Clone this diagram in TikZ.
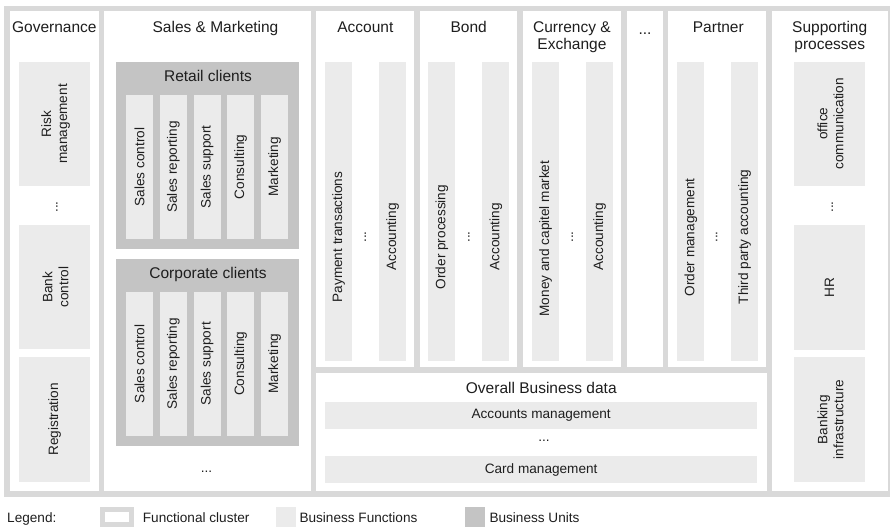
\documentclass[tikz,border=0pt]{standalone}
\usepackage{fontspec}
\setmainfont{Liberation Sans}
\definecolor{framegray}{HTML}{D9D9D9}
\definecolor{funcgray}{HTML}{EBEBEB}
\definecolor{unitgray}{HTML}{C4C4C4}
\definecolor{ink}{HTML}{1E1E1E}
\begin{document}
\begin{tikzpicture}[x=1pt,y=-1pt,
  box/.style={anchor=north west, inner sep=0pt, outer sep=0pt, draw=none},
  cluster/.style={box, fill=white},
  fbox/.style={box, fill=funcgray},
  ubox/.style={box, fill=unitgray},
  ttl/.style={font=\fontsize{15.5}{17}\selectfont, text=ink, align=center, inner sep=0pt},
  lbl/.style={font=\fontsize{13.6}{16}\selectfont, text=ink, align=center, inner sep=0pt},
  vlbl/.style={lbl, rotate=90},
  vcol/.style={fbox, minimum width=27pt, minimum height=298.4pt},
  sfun/.style={fbox, minimum width=27pt, minimum height=143.8pt}]
\useasboundingbox (0,0) rectangle (890,528);
% frame
\fill[framegray] (4,6) rectangle (895,496.6);
% clusters
\node[cluster, minimum width=89.2pt, minimum height=479.7pt] (gov) at (9.5,11) {};
\node[cluster, minimum width=206.4pt, minimum height=479.7pt] (sales) at (104.3,11) {};
\node[cluster, minimum width=98.3pt, minimum height=356pt] (acc) at (316,11) {};
\node[cluster, minimum width=97.3pt, minimum height=356pt] (bond) at (420,11) {};
\node[cluster, minimum width=98.3pt, minimum height=356pt] (cur) at (522.7,11) {};
\node[cluster, minimum width=36.6pt, minimum height=356pt] (more) at (626.7,11) {};
\node[cluster, minimum width=97.7pt, minimum height=356pt] (part) at (668.3,11) {};
\node[cluster, minimum width=116pt, minimum height=479.7pt] (supp) at (771.7,11) {};
\node[cluster, minimum width=450.5pt, minimum height=118pt] (overall) at (316,372.7) {};
% titles
\node[ttl, anchor=base] (tgov) at (54.3,32.2) {Governance};
\node[ttl, anchor=base] (tsales) at (215.5,32.2) {Sales \& Marketing};
\node[ttl, anchor=base] (tacc) at (365.4,32.2) {Account};
\node[ttl, anchor=base] (tbond) at (468.7,32.2) {Bond};
\node[ttl, anchor=base] (tcur) at (571.9,49.2) {Currency \&\\Exchange};
\node[ttl, anchor=base] (tmore) at (645,34.5) {...};
\node[ttl, anchor=base] (tpart) at (718.3,32.2) {Partner};
\node[ttl, anchor=base] (tsupp) at (829.7,49.2) {Supporting\\processes};
\node[ttl, anchor=base] (tover) at (541.3,393.8) {Overall Business data};
% governance
\node[fbox, minimum width=71pt, minimum height=124.7pt] (risk) at (19,61.5) {};
\node[vlbl] at ([xshift=1pt]risk.center) {Risk\\management};
\node[vlbl] (gdots) at (57,207) {...};
\node[fbox, minimum width=71pt, minimum height=124.3pt] (bank) at (19,225) {};
\node[vlbl] at ([xshift=1pt]bank.center) {Bank\\control};
\node[fbox, minimum width=71pt, minimum height=124.7pt] (reg) at (19,357) {};
\node[vlbl] at (reg.center) {Registration};
% supporting
\node[fbox, minimum width=71pt, minimum height=124.5pt] (office) at (794,61.5) {};
\node[vlbl] at ([xshift=1pt]office.center) {office\\communication};
\node[vlbl] (sdots) at (832.3,207) {...};
\node[fbox, minimum width=71pt, minimum height=124.5pt] (hr) at (794,225) {};
\node[vlbl] at (hr.center) {HR};
\node[fbox, minimum width=71pt, minimum height=124.4pt] (infra) at (794,357.3) {};
\node[vlbl] at ([xshift=1pt]infra.center) {Banking\\infrastructure};
% sales units
\node[ubox, minimum width=183pt, minimum height=186.7pt] (retail) at (116,62) {};
\node[ttl, anchor=base] at (208,81.5) {Retail clients};
\node[ubox, minimum width=183pt, minimum height=186.7pt] (corp) at (116,259) {};
\node[ttl, anchor=base] at (208,278.8) {Corporate clients};
\foreach \x/\t [count=\i] in {126/Sales control,159.8/Sales reporting,193.5/Sales support,227.2/Consulting,261/Marketing}{
  \node[sfun] (r\i) at (\x,95) {};
  \node[vlbl] at (r\i.center) {\t};
  \node[sfun] (c\i) at (\x,291.8) {};
  \node[vlbl] at (c\i.center) {\t};
}
\node[lbl] (sldots) at (206.5,471.5) {...};
% product columns
\node[vcol] (a1) at (325,62.3) {};
\node[vcol] (a2) at (379,62.3) {};
\node[vlbl] at (338.5,237) {Payment transactions};
\node[vlbl] at (365.5,237) {...};
\node[vlbl] at (392.5,237) {Accounting};
\node[vcol] (b1) at (428.3,62.3) {};
\node[vcol] (b2) at (482.3,62.3) {};
\node[vlbl] at (441.8,237) {Order processing};
\node[vlbl] at (469,237) {...};
\node[vlbl] at (495.8,237) {Accounting};
\node[vcol] (m1) at (532,62.3) {};
\node[vcol] (m2) at (586,62.3) {};
\node[vlbl] at (545.5,238.5) {Money and capitel market};
\node[vlbl] at (572.5,237) {...};
\node[vlbl] at (599.5,237) {Accounting};
\node[vcol] (p1) at (677.3,62.3) {};
\node[vcol] (p2) at (731,62.3) {};
\node[vlbl] at (690.8,237.5) {Order management};
\node[vlbl] at (716.7,237) {...};
\node[vlbl] at (744.5,237) {Third party accounting};
% overall business data
\node[fbox, minimum width=432.3pt, minimum height=27pt] (accm) at (325,402) {};
\node[lbl] at (accm.center) {Accounts management};
\node[lbl] (odots) at (544,440.5) {...};
\node[fbox, minimum width=432.3pt, minimum height=27pt] (card) at (325,456) {};
\node[lbl] at (card.center) {Card management};
% legend
\node[lbl, anchor=base west] (leg) at (7,522) {Legend:};
\node[box, fill=white, draw=framegray, line width=5pt, minimum width=29pt, minimum height=14.4pt] (lc) at (102.5,509.8) {};
\node[lbl, anchor=base west] at (142.7,522) {Functional cluster};
\node[fbox, minimum width=19.7pt, minimum height=19.7pt] (lf) at (276,507.3) {};
\node[lbl, anchor=base west] at (299.3,522) {Business Functions};
\node[ubox, minimum width=19.7pt, minimum height=19.7pt] (lu) at (465,507.3) {};
\node[lbl, anchor=base west] at (489.3,522) {Business Units};
\end{tikzpicture}
\end{document}
